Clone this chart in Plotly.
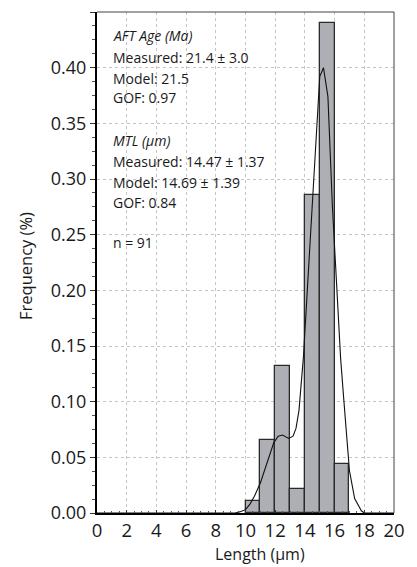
import plotly.graph_objects as go

# ---- data ----
bin_centers = [10.5, 11.5, 12.5, 13.5, 14.5, 15.5, 16.5]
bin_freq = [0.011, 0.066, 0.132, 0.022, 0.286, 0.440, 0.044]

model_x = [0, 9.0, 9.3, 9.6, 10.0, 10.3, 10.6, 11.0, 11.5, 11.9, 12.2, 12.5, 12.9,
           13.2, 13.4, 13.6, 13.9, 15.0, 15.25, 15.55, 15.85, 16.4, 16.6, 16.8,
           17.0, 17.35, 17.8, 18.0, 20]
model_y = [0, 0, 0.0, 0.001, 0.003, 0.008, 0.015, 0.027, 0.048, 0.063, 0.069, 0.070,
           0.067, 0.069, 0.076, 0.092, 0.14, 0.392, 0.400, 0.374, 0.276, 0.14, 0.105,
           0.068, 0.038, 0.013, 0.002, 0, 0]

info_lines = [
    "<i>AFT Age (Ma)</i>",
    "Measured: 21.4 ± 3.0",
    "Model: 21.5",
    "GOF: 0.97",
    "<i>MTL (μm)</i>",
    "Measured: 14.47 ± 1.37",
    "Model: 14.69 ± 1.39",
    "GOF: 0.84",
    "n = 91",
]
info_y_px = [35, 57, 78, 98, 140, 161, 182, 202, 243]

x_title = "Length (μm)"
y_title = "Frequency (%)"

# ---- layout geometry ----
W, H = 417, 567
L, R, T, B = 97, 19, 12, 54
plot_h = H - T - B
FONT = "Open Sans"

fig = go.Figure()
fig.add_trace(go.Bar(
    x=bin_centers, y=bin_freq, width=1,
    marker=dict(color="rgb(174,175,180)", line=dict(color="#2a2a2a", width=1.3)),
    showlegend=False,
))
fig.add_trace(go.Scatter(
    x=model_x, y=model_y, mode="lines",
    line=dict(color="#111111", width=1.1),
    showlegend=False,
))

annotations = []
for txt, py in zip(info_lines, info_y_px):
    annotations.append(dict(
        text=txt, x=(111 - L) / (W - L - R), y=(H - B - py) / plot_h,
        xref="paper", yref="paper", xanchor="left", yanchor="middle",
        showarrow=False, font=dict(family=FONT, size=14, color="#1a1a1a"),
    ))
annotations.append(dict(
    text=y_title, x=(24 - L) / (W - L - R), y=(H - B - 266) / plot_h,
    xref="paper", yref="paper", xanchor="center", yanchor="middle",
    textangle=-90, showarrow=False, font=dict(family=FONT, size=16.5, color="#1a1a1a"),
))
annotations.append(dict(
    text=x_title, x=(262 - L) / (W - L - R), y=(H - B - 554) / plot_h,
    xref="paper", yref="paper", xanchor="center", yanchor="middle",
    showarrow=False, font=dict(family=FONT, size=16, color="#1a1a1a"),
))

shapes = [
    dict(type="line", xref="paper", yref="paper", x0=0, x1=1, y0=1, y1=1,
         line=dict(color="#444444", width=1)),
    dict(type="line", xref="paper", yref="paper", x0=1, x1=1, y0=0, y1=1,
         line=dict(color="#444444", width=1)),
]

fig.update_layout(
    width=W, height=H,
    margin=dict(l=L, r=R, t=T, b=B),
    paper_bgcolor="white", plot_bgcolor="white",
    font=dict(family=FONT, color="#1a1a1a"),
    annotations=annotations, shapes=shapes,
    bargap=0,
)
fig.update_xaxes(
    range=[0, 20], tick0=0, dtick=2, showline=True, linecolor="black", linewidth=2,
    ticks="inside", ticklen=3, tickcolor="#333", tickwidth=1,
    tickfont=dict(family=FONT, size=18.5),
    showgrid=True, gridcolor="#c4c4c4", griddash="dot", gridwidth=1,
    zeroline=False,
    minor=dict(dtick=0.5, ticks="inside", ticklen=2, tickcolor="#555", showgrid=False),
)
fig.update_yaxes(
    range=[0, 0.45], tick0=0, dtick=0.05, tickformat=".2f",
    showline=True, linecolor="black", linewidth=2,
    ticks="outside", ticklen=5, tickcolor="#333", tickwidth=1,
    tickfont=dict(family=FONT, size=18),
    showgrid=True, gridcolor="#c4c4c4", griddash="dot", gridwidth=1,
    zeroline=False,
    minor=dict(dtick=0.0125, ticks="outside", ticklen=3, tickcolor="#555", showgrid=False),
)

fig.write_html("out.html")
